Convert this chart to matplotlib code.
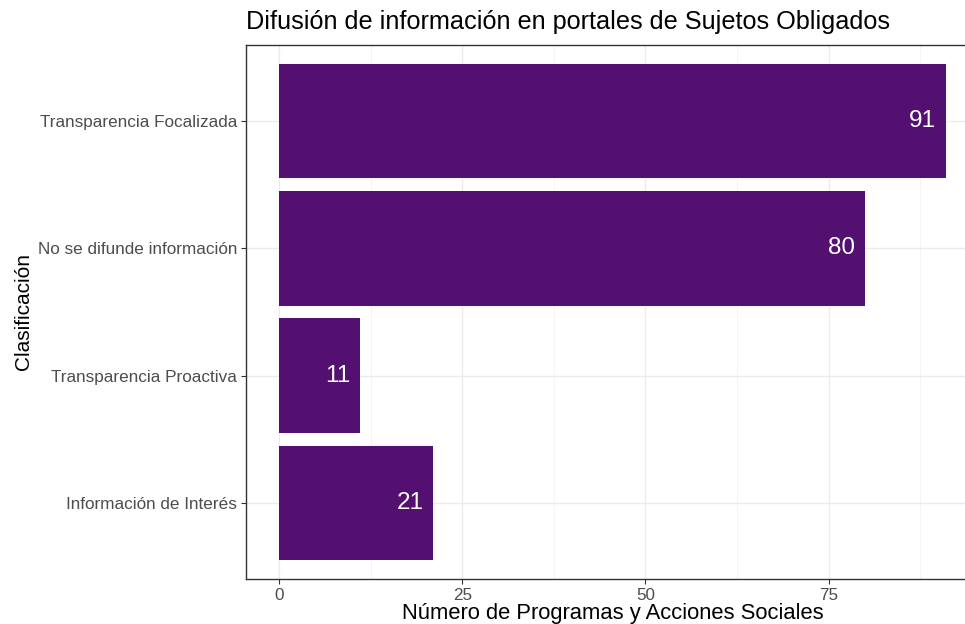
import matplotlib
matplotlib.use("Agg")
import matplotlib.pyplot as plt
from matplotlib.ticker import MultipleLocator

categories = ["Información de Interés", "Transparencia Proactiva",
              "No se difunde información", "Transparencia Focalizada"]
values = [21, 11, 80, 91]
x_ticks = [0, 25, 50, 75]

plt.rcParams['font.family'] = ['Liberation Sans', 'DejaVu Sans']

W, H = 965, 624
fig = plt.figure(figsize=(W / 100, H / 100), dpi=100)
# panel: left 246, top 45, bottom 578, right beyond image
left, right, top, bottom = 246, 979, 45, 579
ax = fig.add_axes([left / W, 1 - bottom / H, (right - left) / W, (bottom - top) / H])

bar_color = "#531070"
ypos = list(range(1, len(categories) + 1))
ax.barh(ypos, values, height=0.9, color=bar_color, zorder=3)

for y, v in zip(ypos, values):
    ax.annotate(str(v), xy=(v, y), xytext=(-7, 0), textcoords="offset points",
                ha="right", va="center", color="white", fontsize=17.5, zorder=4)

xmax = max(values)
ax.set_xlim(-0.05 * xmax, xmax * 1.05)
ax.set_ylim(0.4, len(categories) + 0.6)

ax.set_yticks(ypos)
ax.set_yticklabels(categories)
ax.set_xticks(x_ticks)
ax.set_xticklabels([str(t) for t in x_ticks])
ax.xaxis.set_minor_locator(MultipleLocator(12.5))

ax.grid(True, which="major", color="#EBEBEB", linewidth=1.0, zorder=0)
ax.grid(True, which="minor", axis="x", color="#F2F2F2", linewidth=0.6, zorder=0)
ax.set_axisbelow(True)

for s in ax.spines.values():
    s.set_color("#333333")
    s.set_linewidth(1.0)

ax.tick_params(axis="both", which="major", length=3.5, width=0.8, color="#333333",
               labelcolor="#4D4D4D", labelsize=12.3, pad=3)
ax.tick_params(axis="both", which="minor", length=0)

ax.set_xlabel("Número de Programas y Acciones Sociales", fontsize=15.8, color="black", labelpad=0)
ax.set_ylabel("Clasificación", fontsize=15, color="black", labelpad=3)

fig.text(left / W, 1 - 22 / H, "Difusión de información en portales de Sujetos Obligados",
         fontsize=18.2, ha="left", va="center", color="black")

fig.savefig("out.png", dpi=100)
